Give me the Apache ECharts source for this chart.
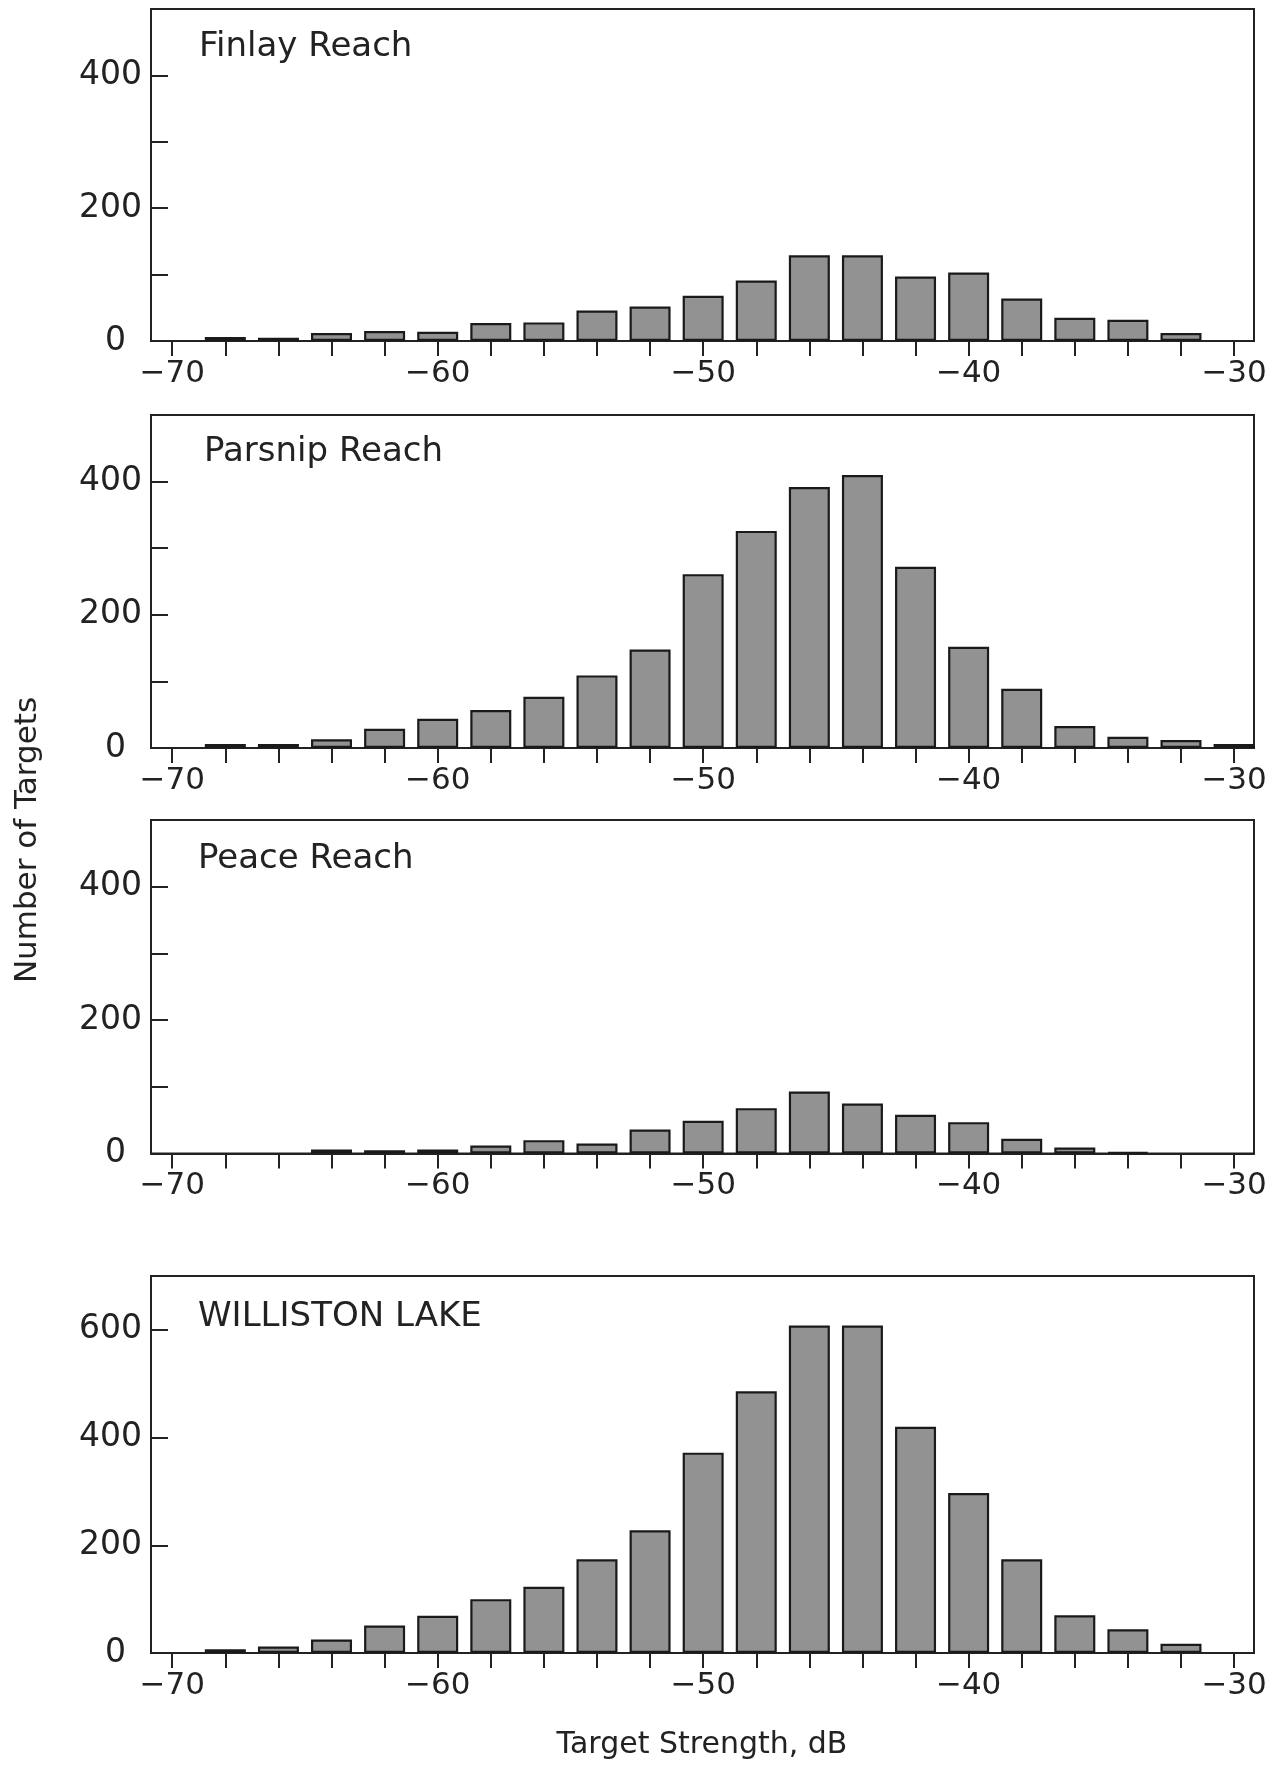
<!DOCTYPE html>
<html>
<head>
<meta charset="utf-8">
<script src="https://cdn.jsdelivr.net/npm/echarts@6/dist/echarts.min.js"></script>
<style>
  html, body { margin: 0; padding: 0; background: #ffffff; }
  #chart { width: 1283px; height: 1765px; }
</style>
</head>
<body>
<div id="chart"></div>
<script>
// ---- data ----
const bins = [-68, -66, -64, -62, -60, -58, -56, -54, -52, -50, -48, -46, -44, -42, -40, -38, -36, -34, -32, -30];
const finlay    = [6, 5, 12, 15, 14, 27, 28, 46, 52, 68, 91, 129, 129, 97, 103, 64, 35, 32, 12, null];
const parsnip   = [6, 6, 13, 29, 44, 57, 77, 109, 148, 261, 326, 392, 410, 272, 152, 89, 33, 17, 12, 6];
const peace     = [null, null, 6, 5, 6, 12, 20, 15, 36, 49, 68, 93, 75, 58, 47, 22, 9, 2, null, null];
const williston = [7, 12, 25, 51, 69, 100, 123, 174, 228, 372, 486, 608, 608, 420, 297, 174, 70, 44, 17, null];

const panelTitles = ['Finlay Reach', 'Parsnip Reach', 'Peace Reach', 'WILLISTON LAKE'];
const panelValues = [finlay, parsnip, peace, williston];

const xTickValues  = [-70, -68, -66, -64, -62, -60, -58, -56, -54, -52, -50, -48, -46, -44, -42, -40, -38, -36, -34, -32, -30];
const xLabelValues = [-70, -60, -50, -40, -30];
const yMaxes      = [500, 500, 500, 700];
const yIntervals  = [100, 100, 100, 200];
const yLabelStep  = 200;

const xAxisName = 'Target Strength, dB';
const yAxisName = 'Number of Targets';

// ---- layout ----
const FONT = 'DejaVu Sans';
const INK = '#222222';
const grids = [
  { top: 9,    height: 332 },
  { top: 415,  height: 333 },
  { top: 820,  height: 333.5 },
  { top: 1276, height: 377 }
];
const titlePos = [[199, 47], [204, 452], [198, 859], [198, 1317]];

const chart = echarts.init(document.getElementById('chart'), null, { renderer: 'canvas' });

const option = {
  backgroundColor: '#ffffff',
  animation: false,
  grid: grids.map(g => ({
    left: 151, right: 29, top: g.top, height: g.height,
    show: true, borderColor: INK, borderWidth: 2, backgroundColor: 'transparent'
  })),
  xAxis: grids.map((g, i) => ({
    type: 'value', gridIndex: i, min: -70.8, max: -29.25,
    axisLine: { show: true, lineStyle: { color: INK, width: 2 } },
    axisTick: { show: true, inside: false, length: 15, customValues: xTickValues,
                lineStyle: { color: INK, width: 2 } },
    axisLabel: { show: true, customValues: xLabelValues, margin: 17,
                 fontSize: 31, fontFamily: FONT, color: INK,
                 formatter: v => String(v).replace('-', '\u2212') },
    splitLine: { show: false }
  })),
  yAxis: grids.map((g, i) => ({
    type: 'value', gridIndex: i, min: 0, max: yMaxes[i], interval: yIntervals[i],
    axisLine: { show: true, lineStyle: { color: INK, width: 2 } },
    axisTick: { show: true, inside: true, length: 17, lineStyle: { color: INK, width: 2 } },
    axisLabel: {
      show: true, margin: 9, fontSize: 33, fontFamily: FONT, color: INK,
      formatter: v => {
        if (v >= yMaxes[i] || v % yLabelStep !== 0) return '';
        return v === 0 ? '{z|0}' : String(v);
      },
      rich: { z: { fontSize: 33, fontFamily: FONT, color: INK, padding: [0, 16, 0, 0] } }
    },
    splitLine: { show: false }
  })),
  series: panelValues.map((vals, i) => ({
    type: 'bar', xAxisIndex: i, yAxisIndex: i,
    barWidth: 41,
    data: bins.map((b, j) => [b, vals[j]]),
    itemStyle: { color: '#929292', borderColor: '#1a1a1a', borderWidth: 2.2 },
    z: 3
  })),
  graphic: [
    ...panelTitles.map((t, i) => ({
      type: 'text', x: titlePos[i][0], y: titlePos[i][1],
      style: { text: t, fontSize: 34, fontFamily: FONT, fill: INK,
               textAlign: 'left', textVerticalAlign: 'middle' }
    })),
    {
      type: 'text', x: 702, y: 1745,
      style: { text: xAxisName, fontSize: 30, fontFamily: FONT, fill: INK,
               textAlign: 'center', textVerticalAlign: 'middle' }
    },
    {
      type: 'text', x: 28, y: 840, rotation: Math.PI / 2,
      style: { text: yAxisName, fontSize: 31, fontFamily: FONT, fill: INK,
               textAlign: 'center', textVerticalAlign: 'middle' }
    }
  ]
};

chart.setOption(option);
</script>
</body>
</html>
